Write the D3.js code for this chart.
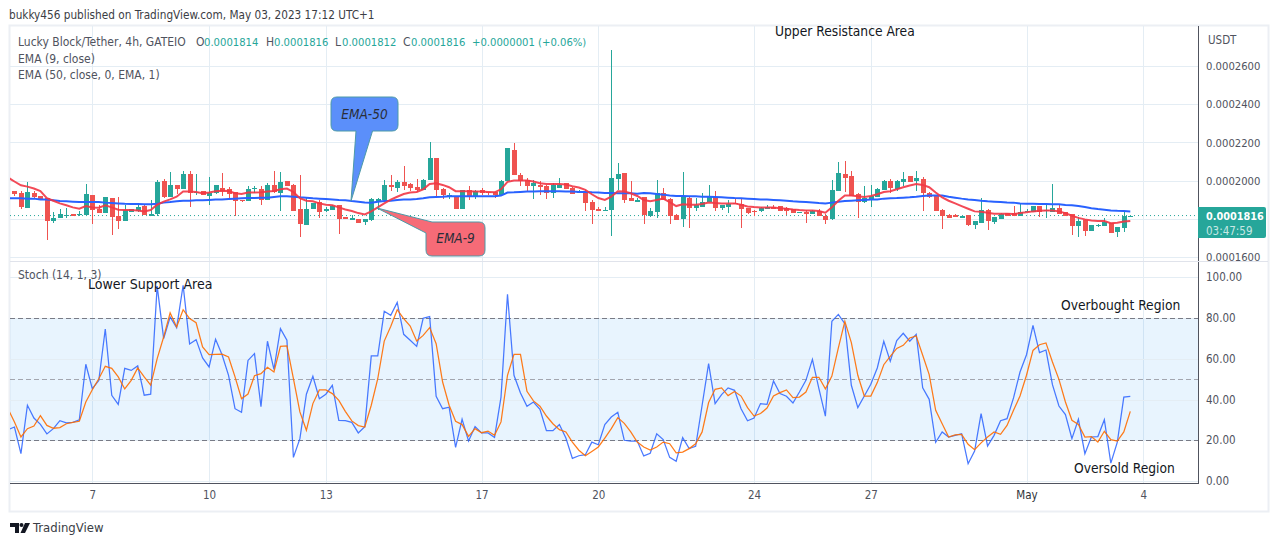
<!DOCTYPE html>
<html>
<head>
<meta charset="utf-8">
<script src="https://cdn.jsdelivr.net/npm/d3@7/dist/d3.min.js"></script>
<style>
html,body{margin:0;padding:0;background:#fff;overflow:hidden}
svg{display:block}
text{font-family:"DejaVu Sans Condensed","Liberation Sans",sans-serif}
</style>
</head>
<body>
<svg id="c" width="1280" height="546"></svg>
<script>
// All prices are in units of 0.0000001 USDT.
const PRICE_UNIT = 1e-7;
const firstBar = "2023-04-05T00:00:00Z";
const barHours = 4;

const opens = [1945,1935,1855,1933,1919,1908,1788,1803,1812,1824,1818,1818,1924,1852,1829,1908,1813,1787,1834,1838,1868,1813,1824,1998,1914,1977,1954,2035,1937,1944,1921,1933,1961,1956,1940,1899,1892,1954,1956,1898,1977,1937,1998,1977,1850,1766,1850,1887,
1840,1845,1870,1808,1794,1797,1783,1792,1894,1898,1974,1961,1993,1982,1967,1951,2003,2120,1954,1914,1914,1850,1949,1912,1951,1940,1940,1924,1998,2162,2030,2003,1972,1977,1972,1933,1963,1988,1963,1935,1935,1887,1850,1840,1845,2009,2040,1907,1889,
1915,1815,1834,1935,1903,1818,1797,1910,1855,1861,1885,1914,1855,1861,1882,1877,1855,1841,1840,1852,1861,1866,1854,1850,1829,1834,1824,1840,1813,1797,1945,2035,2025,1929,1887,1903,1914,1951,1998,1956,1993,2025,1998,2009,1935,1919,1845,1818,1817,1803,
1817,1766,1778,1845,1781,1797,1829,1829,1813,1834,1834,1866,1840,1834,1855,1834,1824,1760,1792,1734,1760,1760,1776,1729,1750,1814];
const highs = [1945,1947,1993,1945,1919,1908,1834,1850,1854,1824,1838,1982,1924,1871,1914,1908,1914,1871,1850,1870,1871,1898,2003,2007,2046,1977,2049,2049,2035,1944,2019,1977,2040,1968,1940,1899,1972,1972,1972,1988,2051,2046,1998,1982,2030,1908,1882,1898,
1859,1873,1870,1808,1817,1797,1796,1907,1908,2003,2030,2003,2077,1988,2009,2009,2204,2120,1961,1935,1919,1951,1972,1951,1961,1940,1940,2003,2173,2197,2042,2014,2003,1995,1977,1989,2014,1988,1968,1951,1951,1898,1861,1861,2686,2093,2040,1998,1907,
1915,1854,2003,1961,1908,1824,2046,1915,1908,1935,1977,1945,1871,1898,1908,1908,1855,1845,1859,1870,1871,1866,1859,1850,1834,1845,1845,1850,1824,2003,2099,2104,2051,1935,1972,1977,1961,2003,2009,2003,2046,2025,2051,2019,1940,1924,1850,1824,1824,1813,
1817,1788,1908,1850,1808,1829,1829,1866,1882,1850,1866,1866,1871,1982,1871,1834,1824,1808,1797,1766,1771,1803,1776,1755,1834,1816];
const lows = [1919,1850,1855,1906,1898,1686,1778,1803,1805,1815,1815,1818,1771,1829,1829,1713,1745,1787,1834,1834,1818,1813,1813,1906,1914,1929,1954,1863,1924,1924,1873,1929,1919,1903,1815,1889,1892,1937,1873,1898,1933,1840,1972,1840,1702,1766,1850,1803,
1836,1845,1718,1799,1794,1778,1769,1788,1845,1898,1944,1940,1951,1945,1940,1951,2003,1912,1903,1903,1850,1850,1898,1903,1924,1924,1908,1924,1998,2030,1972,1940,1903,1924,1903,1910,1963,1956,1931,1935,1840,1771,1840,1840,1707,1951,1880,1892,1889,
1771,1810,1803,1900,1771,1792,1755,1750,1840,1861,1885,1840,1845,1829,1877,1750,1824,1813,1834,1848,1852,1840,1818,1829,1829,1776,1824,1813,1771,1792,1945,1940,1919,1803,1882,1861,1914,1951,1935,1945,1972,1993,1945,1840,1908,1840,1745,1803,1808,1803,
1760,1745,1778,1739,1771,1797,1813,1813,1813,1834,1834,1808,1803,1834,1824,1813,1713,1702,1707,1734,1755,1760,1723,1702,1729,1812];
const closes = [1930,1859,1940,1912,1901,1788,1803,1824,1818,1815,1822,1930,1847,1829,1914,1810,1787,1845,1850,1859,1818,1824,1993,1914,1977,1954,2035,1937,1940,1924,1937,1977,1944,1929,1892,1892,1956,1961,1899,1977,1938,1993,1972,1840,1771,1850,1882,1834,
1852,1864,1799,1799,1803,1778,1796,1903,1901,1977,1965,1993,1972,1959,1951,2003,2120,1951,1924,1922,1850,1951,1914,1944,1933,1933,1922,1998,2173,2030,1998,1972,1989,1965,1933,1975,1977,1956,1931,1942,1882,1845,1840,1845,2014,2035,1899,1892,1899,
1820,1840,1935,1900,1815,1792,1915,1855,1871,1887,1919,1855,1871,1877,1877,1850,1829,1838,1855,1859,1852,1840,1840,1829,1834,1824,1841,1813,1792,1951,2040,2014,1919,1887,1908,1919,1956,1998,1961,1998,2009,1993,2014,1935,1914,1840,1813,1803,1808,1813,
1766,1788,1845,1787,1808,1824,1813,1813,1834,1840,1866,1834,1845,1855,1824,1813,1760,1787,1734,1766,1766,1781,1723,1755,1813,1816];

// EMA and stochastic series start one bar before the first candle.
const ema9 = [2016,1995,1975,1968,1958,1945,1908,1894,1880,1870,1859,1852,1866,1859,1857,1870,1859,1847,1845,1845,1843,1838,1845,1873,1889,1901,1915,1942,1942,1940,1933,1937,1944,1947,1945,1933,1929,1937,1937,1938,1942,1945,1954,1958,1940,1907,1894,1891,1880,
1873,1870,1859,1848,1840,1829,1822,1838,1859,1880,1900,1915,1929,1937,1940,1954,1982,1986,1977,1965,1944,1944,1944,1942,1942,1940,1938,1954,1993,2000,2000,2000,1995,1986,1982,1982,1982,1979,1970,1963,1951,1928,1908,1898,1915,1944,1942,1933,1919,
1898,1891,1898,1905,1887,1866,1875,1873,1873,1877,1885,1882,1880,1880,1880,1873,1864,1861,1859,1859,1859,1855,1852,1848,1845,1843,1843,1840,1831,1859,1894,1921,1921,1917,1914,1919,1928,1940,1944,1954,1965,1974,1982,1977,1965,1937,1912,1894,1880,1866,
1852,1838,1836,1831,1826,1826,1826,1824,1829,1833,1838,1841,1843,1843,1838,1829,1815,1804,1796,1790,1788,1787,1776,1778,1785,1788];
const ema50 = [1907,1907,1907,1905,1905,1901,1900,1896,1892,1891,1889,1887,1887,1887,1887,1884,1882,1880,1878,1877,1877,1875,1875,1878,1884,1887,1891,1894,1894,1896,1896,1898,1900,1901,1903,1905,1907,1908,1908,1910,1910,1914,1917,1917,1915,1912,1910,1907,1905,
1903,1901,1898,1896,1892,1889,1885,1884,1889,1892,1894,1898,1900,1901,1903,1907,1912,1914,1915,1917,1917,1917,1917,1917,1917,1917,1917,1921,1937,1938,1940,1942,1942,1944,1944,1944,1944,1942,1942,1940,1940,1938,1937,1935,1935,1933,1933,1933,1931,
1935,1933,1929,1926,1922,1919,1919,1917,1917,1915,1915,1914,1912,1910,1908,1907,1905,1903,1901,1900,1898,1896,1894,1891,1889,1887,1885,1882,1880,1884,1889,1892,1894,1896,1898,1900,1901,1905,1907,1908,1910,1912,1915,1919,1921,1921,1921,1915,1910,1905,
1901,1898,1894,1891,1889,1887,1885,1884,1880,1878,1878,1877,1877,1875,1875,1871,1870,1866,1861,1855,1850,1847,1843,1841,1840,1838];
const stochK = [25.2,26.5,13.4,37.2,30.9,27.8,23.1,25.7,29.6,28.5,28.8,30.0,57.3,45.3,49.3,74.6,42.1,37.6,55.3,54.3,56.5,42.1,42.6,95.7,69.9,80.5,75.3,96.1,67.3,69.4,60.4,56.0,69.6,62.0,51.9,35.5,33.7,59.2,62.5,36.5,68.6,54.8,74.8,69.1,11.6,20.8,42.6,51.4,40.4,
42.6,47.0,29.8,29.6,28.8,23.6,26.7,61.4,61.4,83.3,81.3,87.7,72.0,69.1,66.1,79.9,80.7,41.6,35.5,36.2,16.5,30.3,19.6,26.7,23.6,23.6,21.4,41.2,91.7,51.9,43.2,36.7,38.8,35.2,24.7,24.7,27.7,21.1,11.1,12.4,12.9,19.1,17.8,27.7,31.4,33.7,20.0,19.6,19.6,
12.3,13.6,23.2,20.3,11.6,9.7,21.3,15.9,17.0,37.2,57.6,38.0,42.4,45.7,44.5,35.5,29.6,30.9,38.0,37.6,49.1,42.9,41.6,38.3,43.7,49.4,59.7,45.3,31.8,78.4,81.8,77.2,47.0,36.0,41.7,47.5,55.5,68.6,58.8,68.9,72.5,68.6,72.0,45.7,40.1,19.0,24.1,21.6,22.4,23.2,
8.5,14.7,33.1,17.2,22.4,29.6,30.6,40.8,53.5,62.0,76.4,63.0,64.3,47.3,36.8,32.6,20.8,30.3,13.4,21.6,21.8,30.1,8.8,19.1,41.2,41.6];
const stochD = [35.5,29.0,21.6,25.7,27.0,32.1,27.3,25.9,26.2,28.1,28.8,29.3,38.8,44.8,50.2,56.3,55.3,51.1,45.2,49.4,55.5,51.1,47.1,60.1,70.7,82.5,75.6,84.1,79.7,77.7,65.8,62.0,62.2,62.3,60.9,51.1,40.4,42.7,51.7,52.7,55.8,53.5,66.1,66.3,50.2,33.9,24.9,38.0,44.7,
44.7,42.9,39.6,34.2,29.5,27.2,26.5,37.2,50.2,68.7,75.9,84.1,79.7,76.1,68.7,71.5,75.3,67.4,48.6,37.2,29.3,27.7,21.9,25.7,23.7,24.5,22.4,29.0,51.9,62.2,62.2,44.0,39.3,36.7,31.9,28.1,25.2,24.1,19.1,15.1,12.4,14.5,16.7,21.1,25.7,31.1,28.3,24.1,19.1,
16.7,15.2,16.7,19.1,18.3,13.8,14.2,15.9,18.3,24.1,38.5,45.0,45.7,41.9,43.9,41.7,36.0,31.9,33.1,35.8,41.7,43.4,44.7,40.9,41.2,43.7,50.9,50.9,45.2,51.5,65.3,78.4,67.9,51.9,41.7,41.7,48.3,57.1,61.2,65.1,66.6,70.2,71.2,61.7,52.2,34.7,28.1,21.6,22.6,22.9,
18.0,15.4,18.7,21.6,24.1,22.9,27.3,34.7,41.7,51.9,64.1,66.9,67.8,58.4,49.9,38.8,29.8,27.8,21.6,21.8,19.1,24.4,20.3,19.6,24.1,34.2];

const priceGrid = [1600,1800,2000,2200,2400,2600];
const priceLabels = [1600,2000,2200,2400,2600]; // 0.0001800 is hidden by the last-price tag in the reference
const stochTicks = [0,20,40,60,80,100];
const stochLevels = [80,50,20];
const timeTickDates = ["2023-04-07","2023-04-10","2023-04-13","2023-04-17","2023-04-20","2023-04-24","2023-04-27","2023-05-01","2023-05-04"];
const timeTickLabels = ["7","10","13","17","20","24","27","May","4"];
const lastClose = 1816;

const pane = {left:10, right:1198, outerRight:1268, top:26, split:262, axisY:484, bottom:511};

const svg = d3.select("#c");
const x = d3.scaleUtc().domain([new Date("2023-04-07T00:00:00Z"), new Date("2023-05-01T00:00:00Z")]).range([92.3,1026.5]);
const yP = d3.scaleLinear().domain([1600,2600]).range([256.7,66.3]);
const yS = d3.scaleLinear().domain([0,100]).range([481,277.3]);
const t0 = +new Date(firstBar), step = barHours*3600e3;
const barTime = i => new Date(t0 + i*step);
const bars = opens.map((o,i)=>({t:barTime(i),o,h:highs[i],l:lows[i],c:closes[i]}));

const UP="#26a69a", DOWN="#ef5350", GRID="#e4edf4", AXIS="#50535e", TXT="#50535e", DARK="#131722";
const FONT='"DejaVu Sans Condensed","Liberation Sans",sans-serif';

// frame
svg.append("rect").attr("x",pane.left-0.5).attr("y",pane.top-0.5).attr("width",pane.outerRight-pane.left+1).attr("height",pane.bottom-pane.top+1)
  .attr("fill","#fff").attr("stroke","#eceff4").attr("stroke-width",2);

const defs=svg.append("defs");
defs.append("clipPath").attr("id","top").append("rect").attr("x",pane.left).attr("y",pane.top).attr("width",pane.right-pane.left).attr("height",pane.split-pane.top);
defs.append("clipPath").attr("id","bot").append("rect").attr("x",pane.left).attr("y",pane.split).attr("width",pane.right-pane.left).attr("height",pane.axisY-pane.split);

// grid
const g=svg.append("g").attr("shape-rendering","crispEdges");
const timeDates=timeTickDates.map(d=>new Date(d+"T00:00:00Z"));
g.selectAll("line.v").data(timeDates).join("line").attr("x1",d=>Math.round(x(d))+.5).attr("x2",d=>Math.round(x(d))+.5).attr("y1",pane.top).attr("y2",pane.axisY).attr("stroke",GRID);
g.selectAll("line.hp").data(priceGrid).join("line").attr("class","hp").attr("x1",pane.left).attr("x2",pane.right).attr("y1",d=>Math.round(yP(d))+.5).attr("y2",d=>Math.round(yP(d))+.5).attr("stroke",GRID);

// stochastic band
svg.append("rect").attr("x",pane.left).attr("width",pane.right-pane.left).attr("y",yS(80)).attr("height",yS(20)-yS(80)).attr("fill","#2196f3").attr("fill-opacity",0.1);
const gs=svg.append("g").attr("shape-rendering","crispEdges");
gs.selectAll("line").data(stochTicks).join("line").attr("x1",pane.left).attr("x2",pane.right).attr("y1",d=>Math.round(yS(d))+.5).attr("y2",d=>Math.round(yS(d))+.5).attr("stroke",GRID);
gs.selectAll("line.lv").data(stochLevels).join("line").attr("class","lv").attr("x1",pane.left).attr("x2",pane.right).attr("y1",d=>Math.round(yS(d))+.5).attr("y2",d=>Math.round(yS(d))+.5)
  .attr("stroke",d=>d===50?"#a3a6af":"#787b86").attr("stroke-dasharray","5 3");

// candles
const cg=svg.append("g").attr("clip-path","url(#top)");
cg.append("line").attr("x1",pane.left).attr("x2",pane.right).attr("y1",yP(lastClose)).attr("y2",yP(lastClose)).attr("stroke",UP).attr("stroke-dasharray","1 3");
const cs=cg.selectAll("g.b").data(bars).join("g").attr("class","b").attr("shape-rendering","crispEdges");
cs.append("line").attr("x1",d=>Math.round(x(d.t))+.5).attr("x2",d=>Math.round(x(d.t))+.5).attr("y1",d=>yP(d.h)).attr("y2",d=>yP(d.l)).attr("stroke",d=>d.c>=d.o?UP:DOWN);
cs.append("rect").attr("x",d=>Math.round(x(d.t))-2).attr("width",5)
  .attr("y",d=>yP(Math.max(d.o,d.c))).attr("height",d=>Math.max(1,Math.abs(yP(d.o)-yP(d.c)))).attr("fill",d=>d.c>=d.o?UP:DOWN);

// EMA lines
const seriesLine=(y)=>d3.line().x((d,i)=>x(barTime(i-1))).y(d=>y(d));
cg.append("path").attr("d",seriesLine(yP)(ema50)).attr("fill","none").attr("stroke","#2962ff").attr("stroke-width",2);
cg.append("path").attr("d",seriesLine(yP)(ema9)).attr("fill","none").attr("stroke","#f23645").attr("stroke-width",2).attr("stroke-opacity",.9);

// Stoch lines
const sg=svg.append("g").attr("clip-path","url(#bot)");
sg.append("path").attr("d",seriesLine(yS)(stochK)).attr("fill","none").attr("stroke","#2962ff").attr("stroke-opacity",.85).attr("stroke-width",1.25);
sg.append("path").attr("d",seriesLine(yS)(stochD)).attr("fill","none").attr("stroke","#ff6d00").attr("stroke-opacity",.9).attr("stroke-width",1.25);

// axis lines
svg.append("line").attr("x1",pane.right+.5).attr("x2",pane.right+.5).attr("y1",pane.top).attr("y2",pane.axisY).attr("stroke",AXIS);
svg.append("line").attr("x1",pane.left).attr("x2",pane.right).attr("y1",pane.axisY-.5).attr("y2",pane.axisY-.5).attr("stroke",AXIS);
svg.append("line").attr("x1",pane.left).attr("x2",pane.outerRight).attr("y1",pane.split-.5).attr("y2",pane.split-.5).attr("stroke","#e0e3eb");

const fs=11.5, fsL=12, fsN=11.2;
// price axis
const ap=d3.axisRight(yP).tickValues(priceLabels).tickSize(0).tickPadding(8).tickFormat(v=>(v*PRICE_UNIT).toFixed(7));
const apg=svg.append("g").attr("transform",`translate(${pane.right},0)`).call(ap);
apg.select(".domain").remove();
apg.selectAll("text").attr("font-size",fsN).attr("fill",TXT).style("font-family",FONT);
// stoch axis
const as=d3.axisRight(yS).tickValues(stochTicks).tickSize(0).tickPadding(8).tickFormat(v=>v.toFixed(2));
const asg=svg.append("g").attr("transform",`translate(${pane.right},0)`).call(as);
asg.select(".domain").remove();
asg.selectAll("text").attr("font-size",fs).attr("fill",TXT).style("font-family",FONT);
// time axis
const at=d3.axisBottom(x).tickValues(timeDates).tickSize(0).tickPadding(7).tickFormat((d,i)=>timeTickLabels[i]);
const atg=svg.append("g").attr("transform",`translate(0,${pane.axisY})`).call(at);
atg.select(".domain").remove();
atg.selectAll("text").attr("font-size",fs).attr("fill",(d,i)=>timeTickLabels[i]==="May"?"#2f3238":TXT).style("font-family",FONT);

function T(xp,yp,s,o={}){
  return svg.append("text").attr("x",xp).attr("y",yp).text(s).attr("font-size",o.size||fsL).attr("fill",o.fill||TXT)
    .attr("font-weight",o.weight||null).attr("font-style",o.italic?"italic":null).attr("text-anchor",o.anchor||"start").attr("fill-opacity",o.op||null);
}
// header
T(9,19,"bukky456 published on TradingView.com, May 03, 2023 17:12 UTC+1",{fill:"#3b3d44",size:11.7});
T(18,46,"Lucky Block/Tether, 4h, GATEIO");
T(196,46,"O");T(204,46,"0.0001814",{fill:UP,size:fsN});
T(266,46,"H");T(274,46,"0.0001816",{fill:UP,size:fsN});
T(335,46,"L");T(342,46,"0.0001812",{fill:UP,size:fsN});
T(403,46,"C");T(411,46,"0.0001816",{fill:UP,size:fsN});
T(472,46,"+0.0000001 (+0.06%)",{fill:UP,size:fsN});
T(18,63,"EMA (9, close)");
T(18,79,"EMA (50, close, 0, EMA, 1)");
T(18,279,"Stoch (14, 1, 3)");
T(1208,44,"USDT",{size:fs});

// annotations
const AN=13.7;
T(775,36,"Upper Resistance Area",{size:AN,fill:DARK});
T(88,289,"Lower Support Area",{size:14,fill:DARK});
T(1061,310,"Overbought Region",{size:AN,fill:DARK});
T(1074,473,"Oversold Region",{size:AN,fill:DARK});

// callouts
const rr=6;
function callout(d,fill,lx,ly,s){
  svg.append("path").attr("d",d).attr("fill",fill).attr("stroke","#4d9aa8").attr("stroke-width",1).attr("stroke-linejoin","round");
  T(lx,ly,s,{size:13.5,fill:"#2a2e39",italic:true,anchor:"middle"});
}
callout(`M${331+rr},97 H${398-rr} Q398,97 398,${97+rr} V${131-rr} Q398,131 ${398-rr},131 H372.5 L351,201 L356,131 H${331+rr} Q331,131 331,${131-rr} V${97+rr} Q331,97 ${331+rr},97 Z`,"#5b8ffa",364.5,119,"EMA-50");
callout(`M377,208 L${432},222 H${485-rr} Q485,222 485,${222+rr} V${256-rr} Q485,256 ${485-rr},256 H${426+rr} Q426,256 426,${256-rr} V233 Z`,"#f66b77",455.5,243,"EMA-9");

// last price tag
svg.append("path").attr("d","M1198,207 H1264 Q1266,207 1266,209 V236 Q1266,238 1264,238 H1198 Z").attr("fill",UP);
T(1206,220,"0.0001816",{fill:"#fff",weight:"bold",size:10.8});
T(1206,235,"03:47:59",{fill:"#fff",op:.75,size:11.5});

// logo
const lg=svg.append("g").attr("fill","#131722");
lg.append("path").attr("d","M10,523 H19 V533 H15 V527 H10 Z");
lg.append("circle").attr("cx",21.5).attr("cy",525).attr("r",2);
lg.append("path").attr("d","M25,523 H30 L25,533 H20.5 Z");
T(33,532,"TradingView",{size:13,fill:"#3a3d45"});
</script>
</body>
</html>
